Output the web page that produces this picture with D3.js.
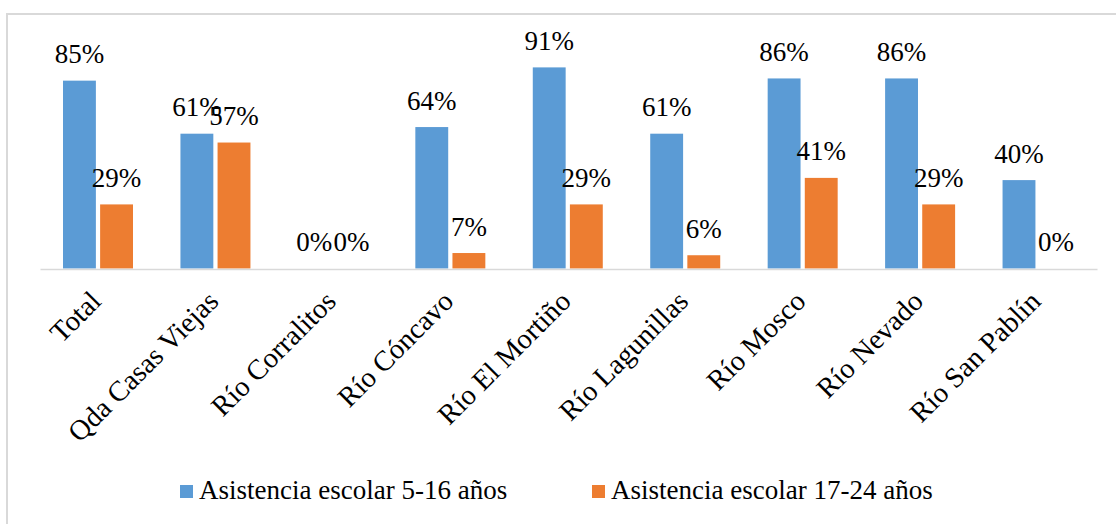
<!DOCTYPE html>
<html><head><meta charset="utf-8">
<script src="https://cdn.jsdelivr.net/npm/d3@7"></script>
<style>body{margin:0;background:#fff}svg{display:block}text{font-family:"Liberation Serif","Times New Roman",serif;fill:#000}</style>
</head><body><svg id="c" width="1116" height="524"></svg>
<script>
const categories = ["Total","Qda Casas Viejas","Río Corralitos","Río Cóncavo","Río El Mortiño","Río Lagunillas","Río Mosco","Río Nevado","Río San Pablín"];
const seriesNames = ["Asistencia escolar 5-16 años","Asistencia escolar 17-24 años"];
const asistencia5a16 = [0.85,0.61,0,0.64,0.91,0.61,0.86,0.86,0.40];
const asistencia17a24 = [0.29,0.57,0,0.07,0.29,0.06,0.41,0.29,0];
const colors = ["#5B9BD5","#ED7D31"];

const svg = d3.select("#c");
svg.append("rect").attr("x",7).attr("y",14).attr("width",1120).attr("height",530)
  .attr("fill","#fff").attr("stroke","#d9d9d9").attr("stroke-width",2);

const x = d3.scaleBand().domain(categories).range([40,1097]).paddingInner(0).paddingOuter(0);
const xs = d3.scaleBand().domain([0,1]).range([23, 23+70]).paddingInner(8/70);
const y = d3.scaleLinear().domain([0,1]).range([268.5,47.5]);
const fmt = d3.format(".0%");

const series = [asistencia5a16, asistencia17a24];
series.forEach((vals,si)=>{
  const g = svg.append("g");
  g.selectAll("rect").data(vals).join("rect")
    .attr("x",(d,i)=>x(categories[i])+xs(si))
    .attr("y",d=>y(d)).attr("width",xs.bandwidth())
    .attr("height",d=>y(0)-y(d)).attr("fill",colors[si]);
  g.selectAll("text").data(vals).join("text")
    .attr("x",(d,i)=>x(categories[i])+xs(si)+xs.bandwidth()/2)
    .attr("y",d=>y(d)-17.5).attr("text-anchor","middle")
    .attr("font-size",27).text(d=>fmt(d));
});

// axis
const axis = d3.axisBottom(x).tickSize(0).tickSizeOuter(0);
const ag = svg.append("g").attr("transform","translate(0,269)").call(axis);
ag.select(".domain").attr("stroke","#d9d9d9").attr("stroke-width",1.5);
ag.selectAll(".tick text").attr("font-size",28.5).attr("font-family","Liberation Serif")
  .attr("fill","#000").attr("text-anchor","end").attr("dy",0)
  .attr("transform","translate(4,34) rotate(-45)").attr("y",0).attr("x",0);

// legend
const leg = svg.append("g");
const lx = [180,592];
seriesNames.forEach((n,i)=>{
  leg.append("rect").attr("x",lx[i]).attr("y",485).attr("width",13).attr("height",13).attr("fill",colors[i]);
  leg.append("text").attr("x",lx[i]+19).attr("y",499).attr("font-size",27).text(n);
});
</script></body></html>
